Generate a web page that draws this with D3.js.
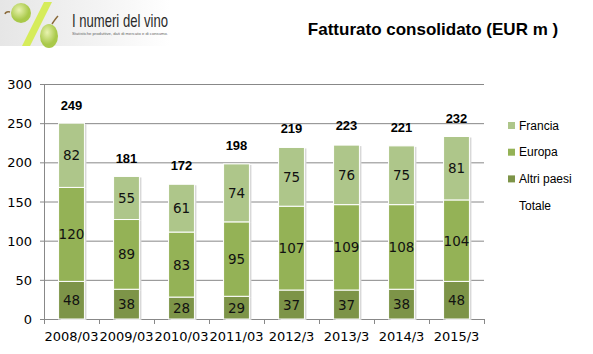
<!DOCTYPE html>
<html><head><meta charset="utf-8">
<script src="https://cdn.jsdelivr.net/npm/d3@7"></script>
<style>body{margin:0;background:#fff}svg{display:block}</style>
</head><body>
<svg id="c" width="593" height="354"></svg>
<script>
const categories = ["2008/03","2009/03","2010/03","2011/03","2012/3","2013/3","2014/3","2015/3"];
const altriPaesi = [48,38,28,29,37,37,38,48];
const europa = [120,89,83,95,107,109,108,104];
const francia = [82,55,61,74,75,76,75,81];
const totale = [249,181,172,198,219,223,221,232];
const yTicks = [0,50,100,150,200,250,300];
const seriesNames = ["Altri paesi","Europa","Francia"];
const colors = {"Altri paesi":"#7d9448","Europa":"#94b256","Francia":"#aec68a"};

const svg = d3.select("#c");
const m = {l:44, r:484, t:84, b:319};
const x = d3.scaleBand().domain(categories).range([m.l,m.r]).paddingInner(0.53).paddingOuter(0.265);
const xb = d3.scaleBand().domain(categories).range([m.l,m.r]);
const y = d3.scaleLinear().domain([0,300]).range([m.b,m.t]);

// logo
const defs = svg.append("defs");
const lg = defs.append("linearGradient").attr("id","lg").attr("x1","0").attr("x2","1");
lg.append("stop").attr("offset","0").attr("stop-color","#e6e6e6");
lg.append("stop").attr("offset","0.6").attr("stop-color","#f4f4f4");
lg.append("stop").attr("offset","1").attr("stop-color","#ffffff");
const gg = defs.append("radialGradient").attr("id","gg").attr("cx","0.4").attr("cy","0.35");
gg.append("stop").attr("offset","0").attr("stop-color","#e9f3b0");
gg.append("stop").attr("offset","1").attr("stop-color","#a9c94a");
svg.append("rect").attr("x",0).attr("y",0).attr("width",170).attr("height",46).attr("fill","url(#lg)");
svg.append("path").attr("d","M44,2 L52,2 L30,46 L22,46 Z").attr("fill","#d6ec5a");
svg.append("path").attr("d","M10,12 Q6,11 5,14").attr("stroke","#8a6a3a").attr("fill","none").attr("stroke-width",1.5);
svg.append("circle").attr("cx",21).attr("cy",13).attr("r",10).attr("fill","url(#gg)");
svg.append("path").attr("d","M52,24 Q56,18 58,16").attr("stroke","#8a6a3a").attr("fill","none").attr("stroke-width",1.5);
svg.append("ellipse").attr("cx",49).attr("cy",36).attr("rx",9).attr("ry",12).attr("fill","url(#gg)");
svg.append("text").attr("x",72).attr("y",27).attr("font-family","Liberation Sans, Arial").attr("font-size",19)
  .attr("textLength",96).attr("lengthAdjust","spacingAndGlyphs").attr("fill","#2a2a2a").text("I numeri del vino");
svg.append("text").attr("x",72).attr("y",35).attr("font-family","Liberation Sans, Arial").attr("font-size",4)
  .attr("textLength",96).attr("lengthAdjust","spacingAndGlyphs").attr("fill","#666").text("Statistiche produttive, dati di mercato e di consumo.");

// title
svg.append("text").attr("x",433).attr("y",35).attr("text-anchor","middle")
  .attr("font-family","Liberation Sans, Arial").attr("font-weight","bold").attr("font-size",17).attr("fill","#000")
  .text("Fatturato consolidato (EUR m )");

// grid
svg.append("g").selectAll("line").data(yTicks).join("line")
  .attr("x1",m.l-4).attr("x2",m.r).attr("y1",d=>y(d)+0.5).attr("y2",d=>y(d)+0.5)
  .attr("stroke","#888").attr("stroke-width",1);
svg.append("line").attr("x1",m.l+0.5).attr("x2",m.l+0.5).attr("y1",m.t).attr("y2",m.b+4).attr("stroke","#888");
// x ticks at band boundaries
const bounds = categories.map(c=>xb(c)).concat([m.r]);
svg.append("g").selectAll("line").data(bounds).join("line")
  .attr("x1",d=>Math.round(d)+0.5).attr("x2",d=>Math.round(d)+0.5).attr("y1",m.b).attr("y2",m.b+5).attr("stroke","#888");

// y labels
svg.append("g").selectAll("text").data(yTicks).join("text")
  .attr("x",m.l-12).attr("y",d=>y(d)+5).attr("text-anchor","end")
  .attr("font-family","DejaVu Sans, Verdana").attr("font-size",13).attr("fill","#000").text(d=>d);
// x labels
svg.append("g").selectAll("text").data(categories).join("text")
  .attr("x",d=>xb(d)+xb.bandwidth()/2).attr("y",341).attr("text-anchor","middle")
  .attr("font-family","DejaVu Sans, Verdana").attr("font-size",13).attr("fill","#000").text(d=>d);

// stacks
const table = categories.map((c,i)=>({cat:c,"Altri paesi":altriPaesi[i],"Europa":europa[i],"Francia":francia[i]}));
const stack = d3.stack().keys(seriesNames)(table);
const g = svg.append("g");
stack.forEach(s=>{
  g.append("g").selectAll("rect").data(s).join("rect")
    .attr("x",d=>x(d.data.cat)+2).attr("y",d=>y(d[1])+1).attr("width",x.bandwidth()).attr("height",d=>y(d[0])-y(d[1]))
    .attr("fill","#d8d8d8");
});
stack.forEach(s=>{
  g.append("g").selectAll("rect").data(s).join("rect")
    .attr("x",d=>x(d.data.cat)).attr("y",d=>y(d[1])).attr("width",x.bandwidth()).attr("height",d=>y(d[0])-y(d[1]))
    .attr("fill",colors[s.key]).attr("stroke","#fff").attr("stroke-width",1);
  g.append("g").selectAll("text").data(s).join("text")
    .attr("x",d=>x(d.data.cat)+x.bandwidth()/2).attr("y",d=>(y(d[0])+y(d[1]))/2+5)
    .attr("text-anchor","middle").attr("font-family","DejaVu Sans, Verdana").attr("font-size",13.5).attr("fill","#111")
    .text(d=>d[1]-d[0]);
});
// totals
svg.append("g").selectAll("text").data(totale).join("text")
  .attr("x",(d,i)=>x(categories[i])+x.bandwidth()/2).attr("y",d=>y(d)-14).attr("text-anchor","middle")
  .attr("font-family","Liberation Sans, Arial").attr("font-weight","bold").attr("font-size",13).attr("fill","#000").text(d=>d);

// legend
const legendItems = ["Francia","Europa","Altri paesi","Totale"];
const lgG = svg.append("g");
legendItems.forEach((k,i)=>{
  const cy = 125 + i*26.7;
  if (colors[k]) lgG.append("rect").attr("x",508).attr("y",cy-3).attr("width",7).attr("height",7).attr("fill",colors[k]);
  lgG.append("text").attr("x",519).attr("y",cy+4.5).attr("font-family","Liberation Sans, Arial").attr("font-size",12).attr("fill","#000").text(k);
});
</script>
</body></html>
